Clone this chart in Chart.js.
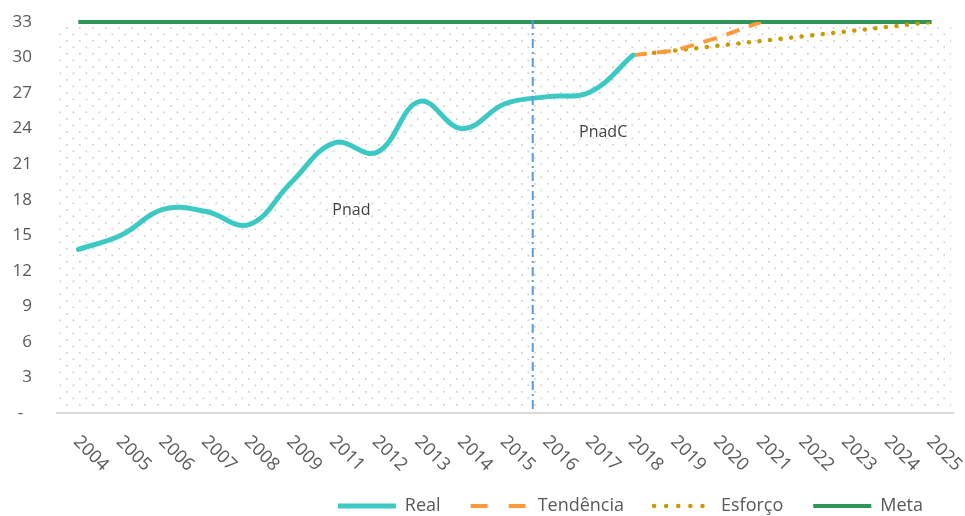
<!DOCTYPE html>
<html lang="pt">
<head>
    <meta charset="UTF-8">
    <title>Real, Tendência, Esforço e Meta</title>
    <style>
        body {
            margin: 0;
            background: #ffffff;
        }
        .chart-wrap {
            width: 965px;
            height: 516px;
        }
    </style>
    <script src="https://cdn.jsdelivr.net/npm/chart.js"></script>
</head>
<body>
    <div class="chart-wrap">
        <canvas id="chart" width="965" height="516"></canvas>
    </div>

    <script>
        // Data
        const years = ['2004', '2005', '2006', '2007', '2008', '2009', '2011', '2012', '2013', '2014',
                       '2015', '2016', '2017', '2018', '2019', '2020', '2021', '2022', '2023', '2024', '2025'];
        const real = [13.8, 15.0, 17.2, 17.0, 15.9, 19.5, 22.8, 22.0, 26.3, 24.0,
                      26.1, 26.7, 27.1, 30.2, null, null, null, null, null, null, null];
        const tendencia = [null, null, null, null, null, null, null, null, null, null,
                           null, null, null, 30.2, 30.6, 31.7, 33.0, null, null, null, null];
        const esforco = [null, null, null, null, null, null, null, null, null, null,
                         null, null, null, 30.2, 30.6, 31.0, 31.4, 31.8, 32.2, 32.6, 33.0];
        const meta = [33, 33, 33, 33, 33, 33, 33, 33, 33, 33,
                      33, 33, 33, 33, 33, 33, 33, 33, 33, 33, 33];
        const yTicks = [0, 3, 6, 9, 12, 15, 18, 21, 24, 27, 30, 33];

        // series break and the two survey labels
        const breakAt = 10.65;
        const notes = [
            { text: 'Pnad', x: 6.4, y: 17.1 },
            { text: 'PnadC', x: 12.3, y: 23.7 }
        ];

        const FONT = '"Open Sans", "Noto Sans", sans-serif';
        const GREY = '#595959';

        // legend samples use their own dash lengths (wider than the chart ones)
        const legendDash = [[], [17, 21], [0.1, 12], []];

        // dotted background like the Excel pattern fill
        function dotPattern(ctx) {
            const tile = document.createElement('canvas');
            tile.width = 13;
            tile.height = 13;
            const t = tile.getContext('2d');
            t.fillStyle = '#cfcfcf';
            t.fillRect(1, 1, 1.7, 1.7);
            t.fillRect(7.5, 7.5, 1.7, 1.7);
            return ctx.createPattern(tile, 'repeat');
        }

        const extras = {
            id: 'extras',
            beforeDatasetsDraw(chart) {
                const ctx = chart.ctx;
                const a = chart.chartArea;
                ctx.save();
                ctx.fillStyle = dotPattern(ctx);
                ctx.fillRect(a.left, a.top + 2, a.right - a.left - 2, a.bottom - a.top - 6);
                ctx.restore();
            },
            afterDraw(chart) {
                const ctx = chart.ctx;
                const a = chart.chartArea;
                const xs = chart.scales.x;
                const ys = chart.scales.y;
                ctx.save();

                // dash-dot divider between Pnad and PnadC
                const bx = xs.getPixelForValue(breakAt);
                ctx.strokeStyle = '#5B9BD5';
                ctx.lineWidth = 2;
                ctx.setLineDash([9, 4, 2, 4]);
                ctx.beginPath();
                ctx.moveTo(bx, a.top - 2);
                ctx.lineTo(bx, a.bottom);
                ctx.stroke();
                ctx.setLineDash([]);

                // survey labels
                ctx.fillStyle = '#404040';
                ctx.font = '16px ' + FONT;
                ctx.textAlign = 'center';
                ctx.textBaseline = 'middle';
                notes.forEach(n => {
                    ctx.fillText(n.text, xs.getPixelForValue(n.x), ys.getPixelForValue(n.y));
                });

                // y labels, right aligned, '-' for zero
                ctx.fillStyle = GREY;
                ctx.font = '17px ' + FONT;
                ctx.textAlign = 'right';
                ys.ticks.forEach(tk => {
                    ctx.fillText(tk.value === 0 ? '-  ' : String(tk.value), a.left - 25, ys.getPixelForValue(tk.value));
                });

                // x labels rotated 45 degrees, reading downwards
                ctx.font = '18px ' + FONT;
                ctx.textAlign = 'left';
                xs.ticks.forEach((tk, i) => {
                    const x = xs.getPixelForTick(i);
                    ctx.save();
                    ctx.translate(x - 2, a.bottom + 26);
                    ctx.rotate(Math.PI / 4);
                    ctx.fillText(years[i], 0, 0);
                    ctx.restore();
                });
                ctx.restore();
            }
        };

        new Chart(document.getElementById('chart'), {
            type: 'line',
            data: {
                labels: years,
                datasets: [
                    {
                        label: 'Real',
                        data: real,
                        borderColor: '#3CC9C4',
                        borderWidth: 5,
                        tension: 0.4,
                        borderCapStyle: 'round',
                        pointRadius: 0
                    },
                    {
                        label: 'Tendência',
                        data: tendencia,
                        borderColor: '#FF9A3C',
                        borderWidth: 4,
                        borderDash: [14, 10],
                        pointRadius: 0
                    },
                    {
                        label: 'Esforço',
                        data: esforco,
                        borderColor: '#C99A06',
                        borderWidth: 4.5,
                        borderDash: [0.1, 10.5],
                        borderCapStyle: 'round',
                        pointRadius: 0
                    },
                    {
                        label: 'Meta',
                        data: meta,
                        borderColor: '#2E9457',
                        borderWidth: 4,
                        clip: false,
                        pointRadius: 0
                    }
                ]
            },
            options: {
                responsive: false,
                animation: false,
                spanGaps: false,
                layout: {
                    padding: { top: 22, right: 12, left: 0, bottom: -9 }
                },
                scales: {
                    x: {
                        offset: true,
                        grid: { display: false, drawTicks: false },
                        border: { display: true, color: '#d9d9d9', width: 2 },
                        ticks: { display: false },
                        afterFit(scale) {
                            scale.height = 54;
                        }
                    },
                    y: {
                        min: 0,
                        max: 33,
                        afterBuildTicks(scale) {
                            scale.ticks = yTicks.map(v => ({ value: v }));
                        },
                        grid: { display: false, drawTicks: false },
                        border: { display: false },
                        ticks: { display: false },
                        afterFit(scale) {
                            scale.width = 57;
                        }
                    }
                },
                plugins: {
                    legend: {
                        position: 'bottom',
                        align: 'end',
                        labels: {
                            usePointStyle: true,
                            pointStyle: 'line',
                            pointStyleWidth: 58,
                            padding: 30,
                            color: GREY,
                            font: { family: FONT, size: 18 },
                            generateLabels(chart) {
                                const items = Chart.defaults.plugins.legend.labels.generateLabels(chart);
                                items.forEach((it, i) => {
                                    const ds = chart.data.datasets[i];
                                    it.strokeStyle = ds.borderColor;
                                    it.lineWidth = ds.borderWidth;
                                    it.lineDash = legendDash[i];
                                    it.lineCap = i === 2 ? 'round' : 'butt';
                                    it.pointStyle = 'line';
                                });
                                return items;
                            }
                        }
                    },
                    tooltip: { enabled: false }
                }
            },
            plugins: [extras]
        });
    </script>
</body>
</html>
